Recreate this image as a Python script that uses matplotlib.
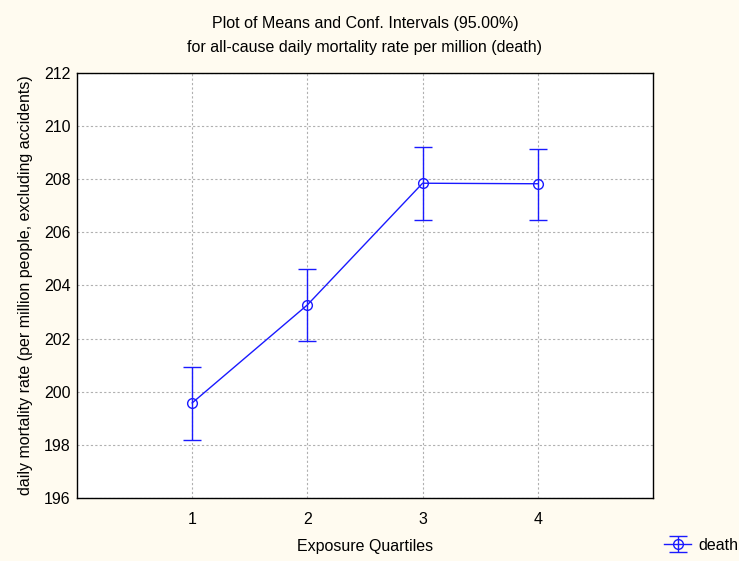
import matplotlib.pyplot as plt

plt.rcParams['font.family'] = ['Liberation Sans', 'DejaVu Sans']

# Dados do gráfico
quartis = [1, 2, 3, 4]
medias = [199.58, 203.27, 207.85, 207.83]
ic_inferior = [198.18, 201.91, 206.45, 206.47]
ic_superior = [200.95, 204.62, 209.21, 209.15]

fundo = '#fffbf0'
azul = '#1a1aff'
tam = 11.5

erro_baixo = [m - l for m, l in zip(medias, ic_inferior)]
erro_alto = [u - m for m, u in zip(medias, ic_superior)]

fig = plt.figure(figsize=(7.39, 5.61), dpi=100, facecolor=fundo)
ax = fig.add_axes([0.1042, 0.1123, 0.7794, 0.7576])
ax.set_facecolor('white')

linha = ax.errorbar(quartis, medias, yerr=[erro_baixo, erro_alto], color=azul,
                    lw=1, elinewidth=1, capsize=6.5, capthick=1,
                    marker='o', markersize=7, markerfacecolor='none',
                    markeredgecolor=azul, markeredgewidth=1, label='death')

ax.set_xlim(0, 5)
ax.set_ylim(196, 212)
ax.set_xticks(quartis)
ax.set_yticks(range(196, 213, 2))
ax.grid(True, color='#b0b0b0', linestyle=(0, (2, 2)), linewidth=0.8)
ax.set_axisbelow(True)
ax.tick_params(labelsize=tam, length=0)
ax.tick_params(axis='x', pad=10)
ax.tick_params(axis='y', pad=4.5)
for s in ax.spines.values():
    s.set_linewidth(1)

ax.set_xlabel('Exposure Quartiles', fontsize=tam, labelpad=9)
ax.set_ylabel('daily mortality rate (per million people, excluding accidents)',
              fontsize=tam, labelpad=8)
ax.set_title('Plot of Means and Conf. Intervals (95.00%)\n'
             'for all-cause daily mortality rate per million (death)',
             fontsize=tam, linespacing=1.8, pad=15)

fig.legend(handles=[linha], loc='center left',
           bbox_to_anchor=(664 / 739, 1 - 545 / 561),
           frameon=False, fontsize=tam, handlelength=1.7, handletextpad=0.45,
           borderpad=0, borderaxespad=0)

fig.savefig('out.png', dpi=100, facecolor=fundo)
